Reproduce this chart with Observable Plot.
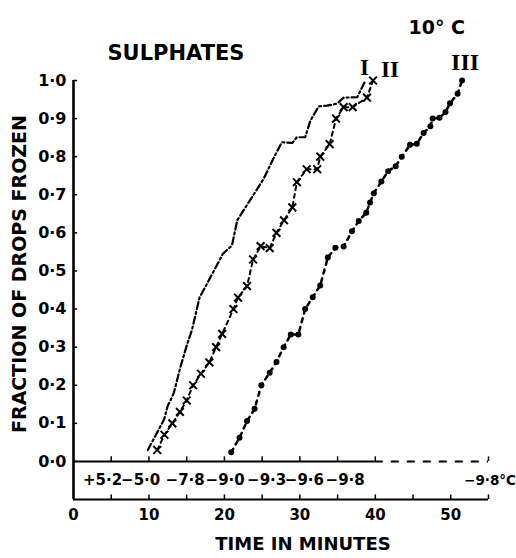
<!DOCTYPE html>
<html>
<head>
<meta charset="utf-8">
<script src="https://cdn.jsdelivr.net/npm/d3@7"></script>
<script src="https://cdn.jsdelivr.net/npm/@observablehq/plot@0.6"></script>
<style>
  html, body { margin: 0; padding: 0; background: #fff; }
  #chart svg { display: block; }
</style>
</head>
<body>
<div id="chart"></div>
<script>
// ---- Data ----
const seriesI = [
  [9.85,0.03],[12.0,0.11],[12.5,0.147],[12.85,0.16],[13.3,0.18],[14.2,0.25],[15.1,0.31],
  [15.7,0.345],[16.7,0.43],[18.6,0.50],[19.8,0.545],[21.0,0.567],[21.7,0.633],[22.8,0.667],
  [25.2,0.742],[26.5,0.795],[27.6,0.838],[29.0,0.836],[29.6,0.851],[30.7,0.851],[31.4,0.895],
  [32.5,0.932],[33.6,0.934],[34.9,0.939],[35.8,0.955],[37.6,0.956],[38.7,1.0]
];
const seriesII = [
  [11.1,0.03],[12.05,0.07],[13.1,0.10],[14.1,0.13],[15.0,0.16],[15.85,0.20],[16.9,0.23],
  [18.0,0.26],[18.9,0.30],[19.7,0.335],[21.2,0.40],[21.8,0.43],[23.0,0.46],[23.8,0.53],
  [24.8,0.565],[26.0,0.56],[26.9,0.60],[27.9,0.633],[29.0,0.667],[29.6,0.733],[30.9,0.767],
  [32.3,0.767],[32.7,0.80],[33.95,0.833],[34.8,0.90],[35.8,0.93],[37.0,0.93],[38.9,0.955],[39.7,1.0]
];
const seriesIII = [
  [20.9,0.024],[22.0,0.062],[23.0,0.106],[24.0,0.138],[24.9,0.2],[26.0,0.233],[26.9,0.261],
  [27.85,0.30],[28.8,0.333],[29.8,0.333],[30.7,0.40],[31.7,0.431],[32.7,0.462],[33.7,0.535],
  [34.7,0.561],[35.8,0.564],[36.9,0.604],[37.8,0.631],[38.8,0.653],[39.3,0.68],[39.8,0.704],
  [40.8,0.735],[41.7,0.762],[42.7,0.775],[43.5,0.80],[44.6,0.831],[45.5,0.834],[46.4,0.862],
  [47.3,0.88],[47.6,0.90],[48.5,0.902],[49.3,0.917],[49.9,0.94],[50.9,0.965],[51.5,1.0]
];
const seriesNames = ["I", "II", "III"];
const yTicks = [0, 0.1, 0.2, 0.3, 0.4, 0.5, 0.6, 0.7, 0.8, 0.9, 1.0];
const xTickLabels = [0, 10, 20, 30, 40, 50];
const xMinorTicks = [5, 10, 15, 20, 25, 30, 35, 40, 45, 50, 55];
const zeroLineTicks = [5, 10, 15, 20, 25, 30, 35, 40, 55];
const tempLabels = ["+5·2", "−5·0", "−7·8", "−9·0", "−9·3", "−9·6", "−9·8"];
const tempTimes = [3.85, 8.9, 14.8, 20.1, 25.6, 30.6, 36.0];
const endTempLabel = "−9·8°C";
const endTempTime = 55.2;
const title = "SULPHATES";
const tempTitle = "10° C";
const yLabel = "FRACTION OF DROPS FROZEN";
const xLabel = "TIME IN MINUTES";

const toRows = (arr) => arr.map(([t, f]) => ({t, f}));
const I = toRows(seriesI), II = toRows(seriesII), III = toRows(seriesIII);
const fmt = (d) => d.toFixed(1).replace(".", "·");
const temps = tempLabels.map((label, i) => ({label, t: tempTimes[i]}));
const FONT = "DejaVu Sans";

const plot = Plot.plot({
  width: 516,
  height: 558,
  marginLeft: 73,
  marginRight: 28,
  marginTop: 80,
  marginBottom: 59,
  style: {background: "#fff", color: "#000", fontFamily: FONT},
  x: {domain: [0, 55], axis: null},
  y: {domain: [-0.1, 1.0], axis: null},
  marks: [
    // frame lines
    Plot.ruleX([0], {y1: -0.1, y2: 1.0, strokeWidth: 2.6}),
    Plot.ruleY([-0.1], {x1: 0, x2: 55, strokeWidth: 2}),
    Plot.ruleY([0], {x1: 0, x2: 40, strokeWidth: 2}),
    Plot.ruleY([0], {x1: 40, x2: 55, strokeWidth: 2, strokeDasharray: "8 8"}),
    // ticks
    Plot.ruleY(yTicks, {x1: 0, x2: 0.55, strokeWidth: 1.5}),
    Plot.ruleX(xMinorTicks, {y1: -0.1, y2: -0.088, strokeWidth: 1.5}),
    Plot.ruleX(zeroLineTicks, {y1: 0, y2: 0.012, strokeWidth: 1.5}),
    // tick labels
    Plot.text(yTicks, {x: 0, y: (d) => d, text: fmt, textAnchor: "end", dx: -7, fontSize: 16, fontWeight: "bold"}),
    Plot.text(xTickLabels, {x: (d) => d, y: -0.1, text: (d) => String(d), dy: 16, fontSize: 15, fontWeight: "bold"}),
    Plot.text(temps, {x: "t", y: -0.05, text: "label", fontSize: 15, fontWeight: "bold"}),
    Plot.text([{t: endTempTime, label: endTempLabel}], {x: "t", y: -0.05, text: "label", fontSize: 13.5, fontWeight: "bold"}),
    // series I: dash-dot line
    Plot.line(I, {x: "t", y: "f", strokeWidth: 2.2, strokeDasharray: "7 3 2 3"}),
    // series II: dashed with crosses
    Plot.line(II, {x: "t", y: "f", strokeWidth: 2, strokeDasharray: "4 4"}),
    Plot.dot(II, {x: "t", y: "f", symbol: "times", r: 3.6, stroke: "#000", strokeWidth: 2}),
    // series III: dashed with dots
    Plot.line(III, {x: "t", y: "f", strokeWidth: 2.5, strokeDasharray: "4 5"}),
    Plot.dot(III, {x: "t", y: "f", r: 3, fill: "#000", stroke: "none"}),
    // series labels near the last points
    Plot.text([I[I.length - 1]], {x: "t", y: "f", text: () => seriesNames[0], dx: -1, dy: -13, fontSize: 23, fontWeight: "bold", fontFamily: "Liberation Serif"}),
    Plot.text([II[II.length - 1]], {x: "t", y: "f", text: () => seriesNames[1], dx: 17, dy: -11, fontSize: 23, fontWeight: "bold", fontFamily: "Liberation Serif"}),
    Plot.text([III[III.length - 1]], {x: "t", y: "f", text: () => seriesNames[2], dx: 3, dy: -18, fontSize: 24, fontWeight: "bold", fontFamily: "Liberation Serif"}),
    // titles
    Plot.text([title], {frameAnchor: "top-left", text: (d) => d, dx: 34, dy: -27, textAnchor: "start", lineAnchor: "middle", fontSize: 21, fontWeight: "bold"}),
    Plot.text([tempTitle], {frameAnchor: "top-left", text: (d) => d, dx: 335, dy: -53, textAnchor: "start", lineAnchor: "middle", fontSize: 19, fontWeight: "bold"}),
    // axis titles
    Plot.text([yLabel], {frameAnchor: "left", text: (d) => d, dx: -54, dy: -16, rotate: -90, textAnchor: "middle", lineAnchor: "middle", fontSize: 19, fontWeight: "bold"}),
    Plot.text([xLabel], {frameAnchor: "bottom", text: (d) => d, dx: 22, dy: 45, textAnchor: "middle", lineAnchor: "middle", fontSize: 18, fontWeight: "bold"})
  ]
});
document.getElementById("chart").appendChild(plot);
</script>
</body>
</html>
